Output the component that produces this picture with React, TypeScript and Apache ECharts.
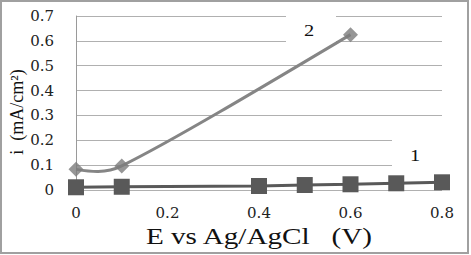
import React, { useEffect, useRef } from "react";
import * as echarts from "echarts";

const xSeries1 = [0, 0.1, 0.4, 0.5, 0.6, 0.7, 0.8];
const ySeries1 = [0.011, 0.013, 0.016, 0.02, 0.023, 0.027, 0.031];
const xSeries2 = [0, 0.1, 0.6];
const ySeries2 = [0.083, 0.097, 0.625];
const seriesLabels = ["1", "2"];
const xTitle = "E vs Ag/AgCl   (V)";
const yTitle = "i  (mA/cm²)";

const serif = "Liberation Serif";
const tickFont = "DejaVu Serif";

// Smooth curve through the points (Excel-like), from the axis coordinates
function smoothPath(pts: number[][], kb: number, kf: number): string {
  const n = pts.length;
  const cps: { b: number[]; f: number[] }[] = [];
  for (let i = 0; i < n; i++) {
    const p = pts[i];
    if (i === 0 || i === n - 1) {
      cps.push({ b: p, f: p });
      continue;
    }
    const prev = pts[i - 1];
    const next = pts[i + 1];
    const vx = next[0] - prev[0];
    const vy = next[1] - prev[1];
    const len = Math.hypot(vx, vy) || 1;
    const ux = vx / len;
    const uy = vy / len;
    const d0 = Math.hypot(p[0] - prev[0], p[1] - prev[1]);
    const d1 = Math.hypot(next[0] - p[0], next[1] - p[1]);
    cps.push({
      b: [p[0] - ux * d0 * kb, p[1] - uy * d0 * kb],
      f: [p[0] + ux * d1 * kf, p[1] + uy * d1 * kf],
    });
  }
  if (n > 2) {
    cps[0].f = [(pts[0][0] + cps[1].b[0]) / 2, (pts[0][1] + cps[1].b[1]) / 2];
    cps[n - 1].b = [
      (pts[n - 1][0] + cps[n - 2].f[0]) / 2,
      (pts[n - 1][1] + cps[n - 2].f[1]) / 2,
    ];
  }
  let d = `M${pts[0][0]},${pts[0][1]}`;
  for (let i = 0; i < n - 1; i++) {
    const a = cps[i].f;
    const b = cps[i + 1].b;
    const p = pts[i + 1];
    d += ` C${a[0]},${a[1]} ${b[0]},${b[1]} ${p[0]},${p[1]}`;
  }
  return d;
}

export default function App() {
  const ref = useRef<HTMLDivElement>(null);
  useEffect(() => {
    if (!ref.current) return;
    const chart = echarts.init(ref.current, null, { renderer: "svg" });
    const data2 = xSeries2.map((x, i) => [x, ySeries2[i]]);
    chart.setOption({
      animation: false,
      backgroundColor: "#ffffff",
      grid: { left: 76, right: 29, top: 16, bottom: 65 },
      xAxis: {
        type: "value",
        min: 0,
        max: 0.8,
        interval: 0.2,
        axisLine: { show: false },
        axisTick: { show: false },
        splitLine: { show: false },
        axisLabel: { margin: 15, fontSize: 15, color: "#222", fontFamily: tickFont },
      },
      yAxis: {
        type: "value",
        min: 0,
        max: 0.7,
        interval: 0.1,
        axisLine: { show: true, lineStyle: { color: "#9a9a9a", width: 1 } },
        axisTick: { show: false },
        splitLine: { show: true, lineStyle: { color: "#b0b0b0", width: 1 } },
        axisLabel: { margin: 22, fontSize: 15, color: "#222", fontFamily: tickFont },
      },
      series: [
        {
          name: seriesLabels[0],
          type: "line",
          data: xSeries1.map((x, i) => [x, ySeries1[i]]),
          symbol: "rect",
          symbolSize: 16,
          itemStyle: { color: "#595959" },
          lineStyle: { color: "#595959", width: 3 },
          z: 3,
        },
        {
          name: seriesLabels[1] + " curve",
          type: "custom",
          data: data2,
          z: 4,
          renderItem: (params: any, api: any) => {
            if (params.dataIndex !== 0) return null;
            const pts = data2.map((d) => api.coord(d));
            return {
              type: "path",
              shape: { pathData: smoothPath(pts, 0.4, 0.2) },
              style: { fill: "none", stroke: "#858585", lineWidth: 3 },
            };
          },
        },
        {
          name: seriesLabels[1],
          type: "scatter",
          data: data2,
          symbol: "diamond",
          symbolSize: 15,
          itemStyle: { color: "#7c7c7c" },
          z: 5,
        },
      ],
      graphic: [
        {
          type: "rect",
          shape: { x: 1, y: 1, width: 467, height: 252 },
          style: { fill: "none", stroke: "#a0a0a0", lineWidth: 2 },
          z: 10,
        },
        {
          type: "rect",
          shape: { x: 286, y: 8, width: 50, height: 40 },
          style: { fill: "#ffffff" },
          z: 1,
        },
        {
          type: "text",
          x: 309,
          y: 30,
          scaleX: 1.2,
          style: {
            text: seriesLabels[1],
            fontSize: 17,
            fontFamily: serif,
            fill: "#111",
            textAlign: "center",
            textVerticalAlign: "middle",
          },
          z: 5,
        },
        {
          type: "rect",
          shape: { x: 392, y: 138, width: 54, height: 36 },
          style: { fill: "#ffffff" },
          z: 1,
        },
        {
          type: "text",
          x: 415,
          y: 155,
          scaleX: 1.2,
          style: {
            text: seriesLabels[0],
            fontSize: 17,
            fontFamily: serif,
            fill: "#111",
            textAlign: "center",
            textVerticalAlign: "middle",
          },
          z: 5,
        },
        {
          type: "text",
          x: 259,
          y: 237,
          scaleX: 1.27,
          style: {
            text: xTitle,
            fontSize: 23,
            fontFamily: serif,
            fill: "#111",
            textAlign: "center",
            textVerticalAlign: "middle",
          },
          z: 5,
        },
        {
          type: "text",
          x: 17,
          y: 112,
          rotation: Math.PI / 2,
          style: {
            text: yTitle,
            fontSize: 18,
            fontFamily: serif,
            fill: "#111",
            textAlign: "center",
            textVerticalAlign: "middle",
          },
          z: 5,
        },
      ],
    });
    return () => chart.dispose();
  }, []);
  return (
    <div style={{ position: "absolute", left: 0, top: 0, width: 471, height: 255, background: "#fff" }}>
      <div ref={ref} style={{ width: 471, height: 255 }} />
    </div>
  );
}
